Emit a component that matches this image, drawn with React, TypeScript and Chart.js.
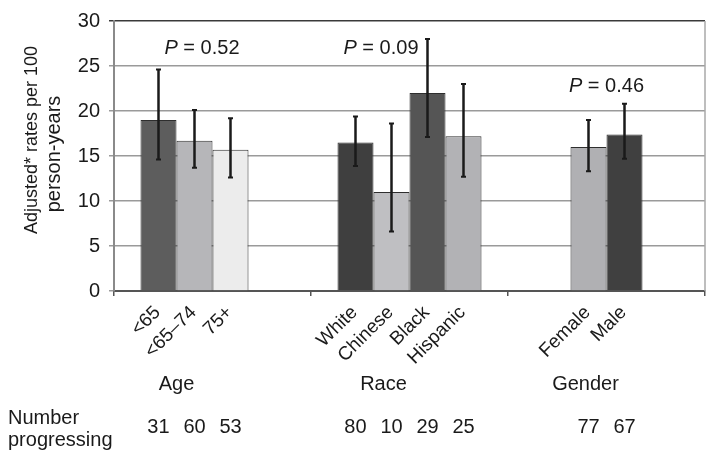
import React, { useEffect, useRef } from 'react';
import { Chart, registerables } from 'chart.js';
Chart.register(...registerables);

// ---- data ----
const groupNames = ['Age', 'Race', 'Gender'];
const pValues = ['0.52', '0.09', '0.46'];

const ageLabels = ['<65', '<65–74', '75+'];
const ageRates = [19.0, 16.7, 15.7];
const ageLow = [14.6, 13.7, 12.6];
const ageHigh = [24.6, 20.1, 19.2];
const ageCounts = [31, 60, 53];

const raceLabels = ['White', 'Chinese', 'Black', 'Hispanic'];
const raceRates = [16.5, 11.0, 22.0, 17.2];
const raceLow = [13.9, 6.6, 17.1, 12.7];
const raceHigh = [19.4, 18.6, 28.0, 23.0];
const raceCounts = [80, 10, 29, 25];

const genderLabels = ['Female', 'Male'];
const genderRates = [16.0, 17.4];
const genderLow = [13.3, 14.7];
const genderHigh = [19.0, 20.8];
const genderCounts = [77, 67];

const yTitleLines = ['Adjusted* rates per 100', 'person-years'];
const countTitleLines = ['Number', 'progressing'];

// ---- styles ----
const ageColors = ['#5d5d5d', '#b6b6b9', '#ececec'];
const raceColors = ['#3f3f3f', '#bfbfc2', '#555555', '#b2b2b5'];
const genderColors = ['#b0b0b3', '#404040'];

const FONT = '"Liberation Sans", Arial, Helvetica, sans-serif';
const TEXT = '#1a1a1a';

export default function App() {
  const ref = useRef<HTMLCanvasElement>(null);

  useEffect(() => {
    const groups = [
      { labels: ageLabels, rates: ageRates, low: ageLow, high: ageHigh, counts: ageCounts, colors: ageColors, start: 0 },
      { labels: raceLabels, rates: raceRates, low: raceLow, high: raceHigh, counts: raceCounts, colors: raceColors, start: 0 },
      { labels: genderLabels, rates: genderRates, low: genderLow, high: genderHigh, counts: genderCounts, colors: genderColors, start: 1 },
    ];
    const SLOTS = 4;
    const idx = (g: any, s: number) => {
      const i = s - g.start;
      return i >= 0 && i < g.rates.length ? i : -1;
    };
    const datasets: any[] = [];
    for (let s = 0; s < SLOTS; s++) {
      datasets.push({
        data: groups.map((g) => (idx(g, s) >= 0 ? g.rates[idx(g, s)] : null)),
        backgroundColor: groups.map((g) => (idx(g, s) >= 0 ? g.colors[idx(g, s)] : '#000')),
        borderColor: '#2e2e2e',
        borderWidth: 1,
        categoryPercentage: 0.731,
        barPercentage: 1,
      });
    }

    const groupLabelOffsets = [-36, -26, -21];
    const pOffsets = [-10.5, -28.5, 0];
    const pValuesY = [26.3, 26.3, 22.1];

    const annot = {
      id: 'annot',
      afterDatasetsDraw(chart: any) {
        const ctx = chart.ctx;
        const y = chart.scales.y;
        ctx.save();
        ctx.strokeStyle = '#1a1a1a';
        for (let s = 0; s < SLOTS; s++) {
          const meta = chart.getDatasetMeta(s);
          groups.forEach((g, gi) => {
            const i = idx(g, s);
            if (i < 0) return;
            const x = meta.data[gi].x;
            const yl = y.getPixelForValue(g.low[i]);
            const yh = y.getPixelForValue(g.high[i]);
            ctx.lineWidth = 2.5;
            ctx.beginPath();
            ctx.moveTo(x, yl);
            ctx.lineTo(x, yh);
            ctx.stroke();
            ctx.lineWidth = 2;
            ctx.beginPath();
            ctx.moveTo(x - 2.5, yl);
            ctx.lineTo(x + 2.5, yl);
            ctx.moveTo(x - 2.5, yh);
            ctx.lineTo(x + 2.5, yh);
            ctx.stroke();
          });
        }
        ctx.restore();
      },
      afterDraw(chart: any) {
        const ctx = chart.ctx;
        const xs = chart.scales.x;
        const ys = chart.scales.y;
        const area = chart.chartArea;
        ctx.save();
        // right frame
        ctx.strokeStyle = '#a8a8a8';
        ctx.lineWidth = 1.5;
        ctx.beginPath();
        ctx.moveTo(area.right, area.top);
        ctx.lineTo(area.right, area.bottom);
        ctx.stroke();

        ctx.fillStyle = TEXT;
        // rotated category labels and counts
        for (let s = 0; s < SLOTS; s++) {
          const meta = chart.getDatasetMeta(s);
          groups.forEach((g, gi) => {
            const i = idx(g, s);
            if (i < 0) return;
            const x = meta.data[gi].x;
            ctx.save();
            ctx.translate(x - 1, area.bottom + 18.5);
            ctx.rotate(-Math.PI / 4);
            ctx.font = `19px ${FONT}`;
            ctx.textAlign = 'right';
            ctx.textBaseline = 'middle';
            ctx.fillText(g.labels[i], 0, 0);
            ctx.restore();
            ctx.font = `20px ${FONT}`;
            ctx.textAlign = 'center';
            ctx.textBaseline = 'alphabetic';
            ctx.fillText(String(g.counts[i]), x, 433);
          });
        }
        // group names
        ctx.font = `20px ${FONT}`;
        ctx.textAlign = 'center';
        ctx.textBaseline = 'alphabetic';
        groupNames.forEach((n, gi) => {
          ctx.fillText(n, xs.getPixelForValue(gi) + groupLabelOffsets[gi], 390);
        });
        // count title
        ctx.textAlign = 'left';
        ctx.fillText(countTitleLines[0], 8, 424);
        ctx.fillText(countTitleLines[1], 8, 446);

        // P values
        pValues.forEach((p, gi) => {
          const cx = xs.getPixelForValue(gi) + pOffsets[gi];
          const yy = ys.getPixelForValue(pValuesY[gi]);
          ctx.font = `italic 20px ${FONT}`;
          const w1 = ctx.measureText('P').width;
          ctx.font = `20px ${FONT}`;
          const rest = ' = ' + p;
          const w2 = ctx.measureText(rest).width;
          const x0 = cx - (w1 + w2) / 2;
          ctx.textAlign = 'left';
          ctx.font = `italic 20px ${FONT}`;
          ctx.fillText('P', x0, yy);
          ctx.font = `20px ${FONT}`;
          ctx.fillText(rest, x0 + w1, yy);
        });

        // y title
        ctx.textAlign = 'center';
        ctx.textBaseline = 'middle';
        ctx.font = `18px ${FONT}`;
        ctx.save();
        ctx.translate(32, 140);
        ctx.rotate(-Math.PI / 2);
        ctx.fillText(yTitleLines[0], 0, 0);
        ctx.restore();
        ctx.font = `20px ${FONT}`;
        ctx.save();
        ctx.translate(54, 154);
        ctx.rotate(-Math.PI / 2);
        ctx.fillText(yTitleLines[1], 0, 0);
        ctx.restore();

        ctx.restore();
      },
    };

    const chart = new Chart(ref.current as HTMLCanvasElement, {
      type: 'bar',
      data: { labels: groupNames, datasets },
      options: {
        responsive: false,
        animation: false,
        devicePixelRatio: 1,
        layout: { padding: { left: 0, right: 9, top: 16, bottom: 0 } },
        plugins: { legend: { display: false }, tooltip: { enabled: false } },
        scales: {
          x: {
            offset: true,
            grid: { offset: true, drawOnChartArea: false, drawTicks: true, tickLength: 5, color: '#555', lineWidth: 1.5 },
            border: { color: '#555', width: 2 },
            ticks: { display: false },
            afterFit: (s: any) => {
              s.height = 170;
            },
          },
          y: {
            min: 0,
            max: 30,
            ticks: { stepSize: 5, font: { family: FONT, size: 20 }, color: TEXT, padding: 9 },
            grid: {
              color: (c: any) => (c.tick && c.tick.value === 30 ? '#3a3a3a' : '#9a9a9a'),
              lineWidth: 1.5,
              tickLength: 5,
            },
            border: { color: '#8a8a8a', width: 2 },
            afterFit: (s: any) => {
              s.width = 114;
            },
          },
        },
      },
      plugins: [annot],
    } as any);
    return () => chart.destroy();
  }, []);

  return (
    <div style={{ position: 'fixed', left: 0, top: 0, width: 714, height: 461, background: '#fff' }}>
      <canvas ref={ref} width={714} height={461} style={{ display: 'block' }} />
    </div>
  );
}
